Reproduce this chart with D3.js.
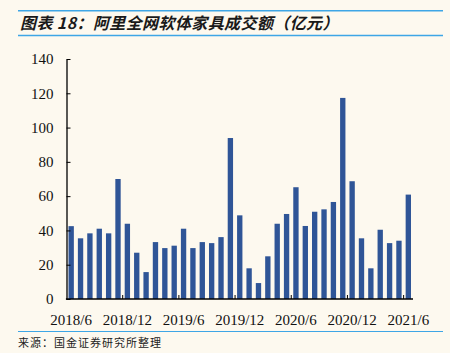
<!DOCTYPE html>
<html lang="zh">
<head>
  <meta charset="UTF-8">
  <title>阿里全网软体家具成交额</title>
  <script src="https://d3js.org/d3.v7.min.js"></script>
  <style>
    body { margin: 0; background: #fdf9ef; }
  </style>
</head>
<body>
  <div id="wrapper"></div>
  <script>
    // 月份 2018/6 - 2021/6
    const months = []
    for (let y = 2018, m = 6; y < 2021 || (y === 2021 && m <= 6); m++) {
      if (m > 12) { m = 1; y++ }
      if (y === 2021 && m > 6) break
      months.push(`${y}/${m}`)
    }
    const values = [
      42.5, 35.4, 38.3, 41, 38.3, 70, 43.9, 27, 15.7, 33.2,
      29.7, 31.1, 41, 29.7, 33.2, 32.6, 36.1, 93.9, 48.8, 17.9,
      9.3, 24.9, 43.9, 49.6, 65.2, 42.6, 50.9, 52.3, 56.6, 117.3,
      68.7, 35.4, 17.9, 40.4, 32.6, 34, 60.9
    ]
    const xTickLabels = ['2018/6', '2018/12', '2019/6', '2019/12', '2020/6', '2020/12', '2021/6']
    const yTicks = [0, 20, 40, 60, 80, 100, 120, 140]

    const dimensions = {
      width: 450,
      height: 353,
      margin: { top: 59, right: 37, bottom: 54, left: 66.5 },
    }
    dimensions.boundedWidth = dimensions.width - dimensions.margin.left - dimensions.margin.right
    dimensions.boundedHeight = dimensions.height - dimensions.margin.top - dimensions.margin.bottom

    const svg = d3.select('#wrapper')
      .append('svg')
        .attr('width', dimensions.width)
        .attr('height', dimensions.height)
        .style('display', 'block')

    svg.append('rect')
      .attr('width', dimensions.width)
      .attr('height', dimensions.height)
      .attr('fill', '#fdf9ef')

    // 标题
    const lineColor = '#3ea6e6'
    svg.append('line').attr('x1', 18).attr('x2', 443).attr('y1', 10.7).attr('y2', 10.7)
      .attr('stroke', lineColor).attr('stroke-width', 1.5)
    svg.append('line').attr('x1', 18).attr('x2', 443).attr('y1', 35.5).attr('y2', 35.5)
      .attr('stroke', lineColor).attr('stroke-width', 1.5)
    svg.append('text')
      .attr('x', 20).attr('y', 29)
      .attr('font-family', '"Noto Sans CJK SC", sans-serif')
      .attr('font-size', 16)
      .attr('font-weight', 'bold')
      .attr('font-style', 'italic')
      .attr('letter-spacing', 0.4)
      .attr('fill', '#1a1a1a')
      .text('图表 18：阿里全网软体家具成交额（亿元）')

    const bounds = svg.append('g')
      .attr('transform', `translate(${dimensions.margin.left},${dimensions.margin.top})`)

    const xScale = d3.scaleBand()
      .domain(months)
      .range([0, dimensions.boundedWidth])
      .paddingInner(0.43)
      .paddingOuter(0.215)

    const yScale = d3.scaleLinear()
      .domain([0, 140])
      .range([dimensions.boundedHeight, 0])

    bounds.selectAll('rect.bar')
      .data(values)
      .join('rect')
        .attr('class', 'bar')
        .attr('x', (d, i) => xScale(months[i]))
        .attr('width', xScale.bandwidth())
        .attr('y', d => yScale(d))
        .attr('height', d => dimensions.boundedHeight - yScale(d))
        .attr('fill', '#2f5597')

    // y 轴
    const yAxis = bounds.append('g')
      .call(d3.axisLeft(yScale).tickValues(yTicks).tickSizeInner(-4).tickSizeOuter(0).tickPadding(13))
    yAxis.select('.domain').attr('stroke', '#000').attr('stroke-width', 1.3)
    yAxis.selectAll('.tick line').attr('stroke', '#000')
    yAxis.selectAll('text')
      .attr('font-family', '"Liberation Serif", "Times New Roman", serif')
      .attr('font-size', 15)
      .attr('fill', '#111')

    // x 轴
    const step = xScale.step()
    const xAxis = bounds.append('g')
      .attr('transform', `translate(0,${dimensions.boundedHeight})`)
    xAxis.append('line')
      .attr('x1', -0.6).attr('x2', dimensions.boundedWidth)
      .attr('stroke', '#000').attr('stroke-width', 1.3)
    const tickIdx = d3.range(6, months.length, 6)
    xAxis.selectAll('line.tick')
      .data(tickIdx)
      .join('line')
        .attr('class', 'tick')
        .attr('x1', i => xScale(months[i]) - xScale.paddingInner() * step / 2)
        .attr('x2', i => xScale(months[i]) - xScale.paddingInner() * step / 2)
        .attr('y1', 0).attr('y2', -4)
        .attr('stroke', '#000')
    xAxis.selectAll('text')
      .data(xTickLabels)
      .join('text')
        .attr('x', d => xScale(d) + xScale.bandwidth() / 2)
        .attr('y', 26)
        .attr('text-anchor', 'middle')
        .attr('font-family', '"Liberation Serif", "Times New Roman", serif')
        .attr('font-size', 15)
        .attr('fill', '#111')
        .text(d => d)

    // 来源
    svg.append('line').attr('x1', 18).attr('x2', 443).attr('y1', 331.5).attr('y2', 331.5)
      .attr('stroke', lineColor).attr('stroke-width', 1.2)
    svg.append('text')
      .attr('x', 18).attr('y', 347)
      .attr('font-family', '"Noto Sans CJK SC", sans-serif')
      .attr('font-size', 11)
      .attr('letter-spacing', 1)
      .attr('fill', '#222')
      .text('来源：国金证券研究所整理')
  </script>
</body>
</html>
